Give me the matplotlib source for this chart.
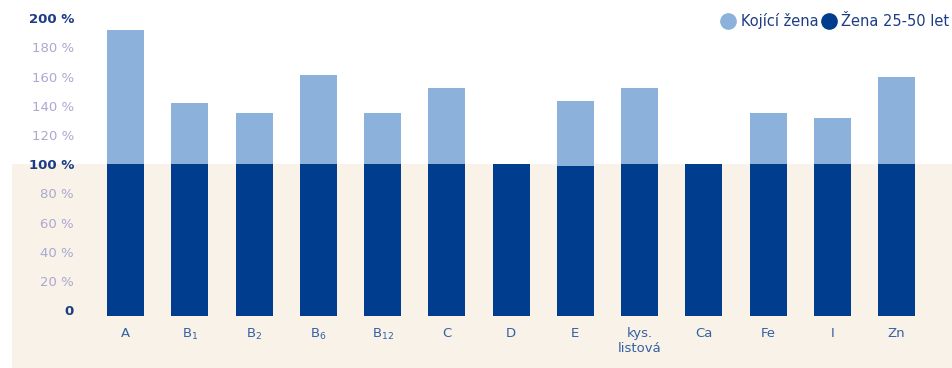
import matplotlib
matplotlib.use("Agg")
import matplotlib.pyplot as plt
from matplotlib.lines import Line2D

categories = ["A", r"$\mathregular{B_1}$", r"$\mathregular{B_2}$", r"$\mathregular{B_6}$",
              r"$\mathregular{B_{12}}$", "C", "D", "E", "kys.\nlistová", "Ca", "Fe", "I", "Zn"]
kojici_zena = [192, 142, 135, 161, 135, 152, 100, 143, 152, 100, 135, 132, 160]
zena_25_50 = [100, 100, 100, 100, 100, 100, 100, 99, 100, 100, 100, 100, 100]
series_names = ["Kojící žena", "Žena 25-50 let"]
ytick_values = [0, 20, 40, 60, 80, 100, 120, 140, 160, 180, 200]
ytick_labels = ["0", "20 %", "40 %", "60 %", "80 %", "100 %", "120 %", "140 %", "160 %", "180 %", "200 %"]

LIGHT = "#8cb1da"
DARK = "#003d8f"
BEIGE = "#f8f2e8"
LABEL_DARK = "#1c3d84"
LABEL_LIGHT = "#aaa8d0"
XLABEL = "#3560a3"

plt.rcParams['font.family'] = ['DejaVu Sans']

fig = plt.figure(figsize=(9.53, 3.68), dpi=100)
W, H = 953, 368
ax = fig.add_axes([12 / W, 0, 1 - 12 / W, 1])
ax.set_facecolor("white")

ymin, ymax = -39.5, 212.5
ax.set_ylim(ymin, ymax)
ax.set_xlim(-1.767, 12.879)

ax.axhspan(ymin, 100, color=BEIGE, zorder=0, lw=0)

x = list(range(len(categories)))
baseline = -3.7
width = 0.576
ax.bar(x, [v - baseline for v in kojici_zena], bottom=baseline, width=width, color=LIGHT, zorder=2)
ax.bar(x, [v - baseline for v in zena_25_50], bottom=baseline, width=width, color=DARK, zorder=3)

for s in ax.spines.values():
    s.set_visible(False)

ax.set_yticks(ytick_values)
ax.set_yticklabels(ytick_labels)
ax.tick_params(axis="y", length=0, pad=-62 * 72 / 100, labelsize=9.5)
for t, v in zip(ax.get_yticklabels(), ytick_values):
    if v in (0, 100, 200):
        t.set_color(LABEL_DARK)
        t.set_fontweight("bold")
    else:
        t.set_color(LABEL_LIGHT)

ax.set_xticks(x)
ax.set_xticklabels(categories, linespacing=1.25)
ax.tick_params(axis="x", length=0, pad=-41 * 72 / 100, labelsize=9.5, labelcolor=XLABEL)
for t in ax.get_xticklabels():
    t.set_verticalalignment("top")

handles = [Line2D([], [], marker="o", linestyle="none", markersize=11, color=LIGHT),
           Line2D([], [], marker="o", linestyle="none", markersize=11, color=DARK)]
leg = ax.legend(handles, series_names, loc="upper right",
                bbox_to_anchor=(1.0 + 7 / 941, 1.0 - 2 / 368),
                ncol=2, frameon=False, fontsize=10.5, handletextpad=0.35,
                columnspacing=0.2, handlelength=1.0, borderaxespad=0.35)
for t in leg.get_texts():
    t.set_color("#1c3d84")

fig.savefig("out.png", dpi=100)
